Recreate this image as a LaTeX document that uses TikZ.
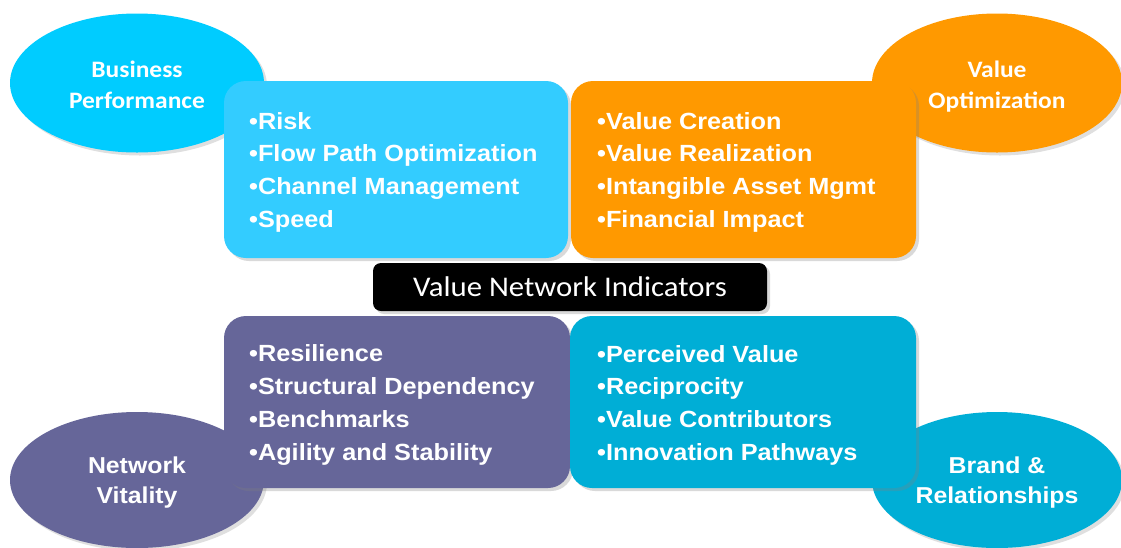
\documentclass[tikz,border=0pt]{standalone}
\usepackage{fontspec}
\usetikzlibrary{shadows,shapes.geometric}
\newfontfamily\arialx[FakeStretch=1.08]{Liberation Sans}
\newfontfamily\calx[FakeStretch=1.08]{Carlito}
\definecolor{bpcyan}{HTML}{00CCFF}
\definecolor{boxcyan}{HTML}{33CCFF}
\definecolor{vorange}{HTML}{FF9900}
\definecolor{vpurple}{HTML}{666699}
\definecolor{vblue}{HTML}{00AED6}
\tikzset{
  oval/.style={ellipse, draw=none, text=white, align=center, inner sep=0pt,
    drop shadow={opacity=0.25, shadow xshift=3pt, shadow yshift=-3pt}},
  panel/.style={rectangle, rounded corners=22pt, draw=none, inner sep=0pt,
    drop shadow={opacity=0.3, shadow xshift=3pt, shadow yshift=-3pt}},
  items/.style={anchor=west, align=left, text=white, inner sep=0pt,
    font=\arialx\bfseries\fontsize{23.4}{32.7}\selectfont},
  ovaltxtA/.style={font=\calx\bfseries\fontsize{23.6}{31}\selectfont},
  ovaltxtB/.style={font=\arialx\bfseries\fontsize{23}{30}\selectfont},
  tag/.style={rectangle, rounded corners=8pt, fill=black, text=white, inner sep=0pt,
    minimum width=394pt, minimum height=48pt,
    font=\calx\fontsize{28.5}{30}\selectfont,
    drop shadow={opacity=0.3, shadow xshift=3pt, shadow yshift=-3pt}}
}
\begin{document}
\begin{tikzpicture}[x=1pt,y=-1pt]
\useasboundingbox (0,0) rectangle (1121,547);
% ellipses
\node[oval, fill=bpcyan, minimum width=254pt, minimum height=139pt] (bp) at (137,83) {};
\node[oval, fill=vorange, minimum width=250pt, minimum height=139pt] (vo) at (997,83) {};
\node[oval, fill=vpurple, minimum width=254pt, minimum height=136pt] (nv) at (137,480) {};
\node[oval, fill=vblue, minimum width=250pt, minimum height=136pt] (br) at (997,480) {};
\node[text=white, align=center, inner sep=0pt, ovaltxtA] (bpt) at ([yshift=-4pt]bp.center) {Business\\Performance\vphantom{p}};
\node[text=white, align=center, inner sep=0pt, ovaltxtA] (vot) at ([yshift=-4pt]vo.center) {Value\\Optimization};
\node[text=white, align=center, inner sep=0pt, ovaltxtB] (nvt) at ([yshift=-3pt]nv.center) {Network\\Vitality\vphantom{p}};
\node[text=white, align=center, inner sep=0pt, ovaltxtB] (brt) at ([yshift=-3pt]br.center) {Brand \&\\Relationships};
% panels
\node[panel, fill=boxcyan, minimum width=344pt, minimum height=177pt] (p1) at (396,169.5) {};
\node[panel, fill=vorange, minimum width=345pt, minimum height=177pt] (p2) at (743.5,169.5) {};
\node[panel, fill=vpurple, minimum width=346pt, minimum height=172pt] (p3) at (397,402) {};
\node[panel, fill=vblue, minimum width=346pt, minimum height=172pt] (p4) at (743,402) {};
% items
\node[items] (t1) at (249,172) {•Risk\\•Flow Path Optimization\\•Channel Management\\•Speed};
\node[items] (t2) at (597,172) {•Value Creation\\•Value Realization\\•Intangible Asset Mgmt\\•Financial Impact};
\node[items] (t3) at (249,405) {•Resilience\\•Structural Dependency\\•Benchmarks\\•Agility and Stability};
\node[items] (t4) at (597,405) {•Perceived Value\\•Reciprocity\\•Value Contributors\\•Innovation Pathways};
% center tag
\node[tag] (tag) at (570,287) {Value Network Indicators};
\end{tikzpicture}
\end{document}
